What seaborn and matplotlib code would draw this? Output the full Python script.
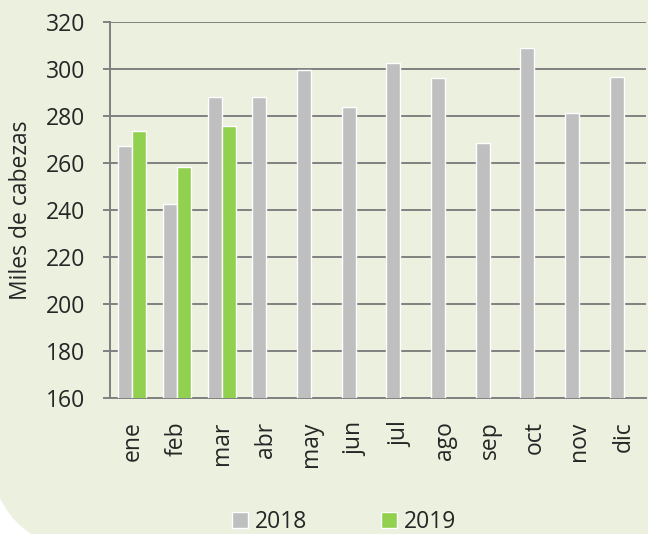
import numpy as np
import pandas as pd
import seaborn as sns
import matplotlib.pyplot as plt
from matplotlib.patches import FancyBboxPatch

meses = ['ene', 'feb', 'mar', 'abr', 'may', 'jun', 'jul', 'ago', 'sep', 'oct', 'nov', 'dic']
v2018 = [267.2, 242.7, 288.0, 288.1, 299.6, 283.7, 302.4, 296.0, 268.7, 308.9, 281.1, 296.5]
v2019 = [273.6, 258.2, 275.9]
anios = ['2018', '2019']

bg = '#EBF0DF'
gris = '#BFBFBF'
verde = '#92D050'
linea = '#808080'
fs = 16.5

rows = []
for m, v in zip(meses, v2018):
    rows.append((m, '2018', v))
for m, v in zip(meses, v2019):
    rows.append((m, '2019', v))
df = pd.DataFrame(rows, columns=['mes', 'anio', 'valor'])

sns.set_style("white")
plt.rcParams['font.family'] = ['Open Sans', 'DejaVu Sans']

fig = plt.figure(figsize=(6.48, 5.34), dpi=100)
fig.patch.set_facecolor('white')
# rounded background panel (pixel coords)
panel = FancyBboxPatch((-13, -19), 720, 640, boxstyle='round,pad=0,rounding_size=121',
                       transform=None, facecolor=bg, edgecolor='none', zorder=-5)
fig.patches.append(panel)

ax = fig.add_axes([110 / 648, 1 - 398 / 534, 536 / 648, 376 / 534])
ax.set_facecolor('none')
sns.barplot(data=df, x='mes', y='valor', hue='anio', order=meses, hue_order=anios,
            palette=[gris, verde], width=0.63, gap=0, saturation=1, ax=ax,
            legend=True, zorder=3)

ax.set_ylim(160, 320)
ax.set_xlim(-0.5, 11.5)
ax.set_yticks(np.arange(160, 321, 20))
ax.yaxis.grid(True, color=linea, linewidth=1.4, zorder=0)
ax.set_axisbelow(True)
for s in ['top', 'right']:
    ax.spines[s].set_visible(False)
for s in ['left', 'bottom']:
    ax.spines[s].set_color(linea)
    ax.spines[s].set_linewidth(1.4)

ax.set_xticks(np.arange(-0.5, 12, 1), minor=True)
ax.tick_params(axis='x', which='minor', length=6, width=1.4, color=linea, direction='out')
ax.tick_params(axis='x', which='major', length=0, pad=17, labelsize=fs, rotation=90)
ax.tick_params(axis='y', length=5, width=1.4, color=linea, direction='out', pad=13, labelsize=fs)
ax.tick_params(axis='both', bottom=True, left=True)

ax.set_xlabel('')
ax.set_ylabel('Miles de cabezas', fontsize=fs)
ax.yaxis.set_label_coords(-0.143, 0.5)

ax.get_legend().remove()
h, l = ax.get_legend_handles_labels()
fig.legend(h, l, loc='center', bbox_to_anchor=(344 / 648, 1 - 522 / 534), ncol=2,
           frameon=False, fontsize=fs, handlelength=0.7, handleheight=0.7,
           handletextpad=0.3, columnspacing=3.2)

fig.savefig('out.png', dpi=100, facecolor=fig.get_facecolor())
